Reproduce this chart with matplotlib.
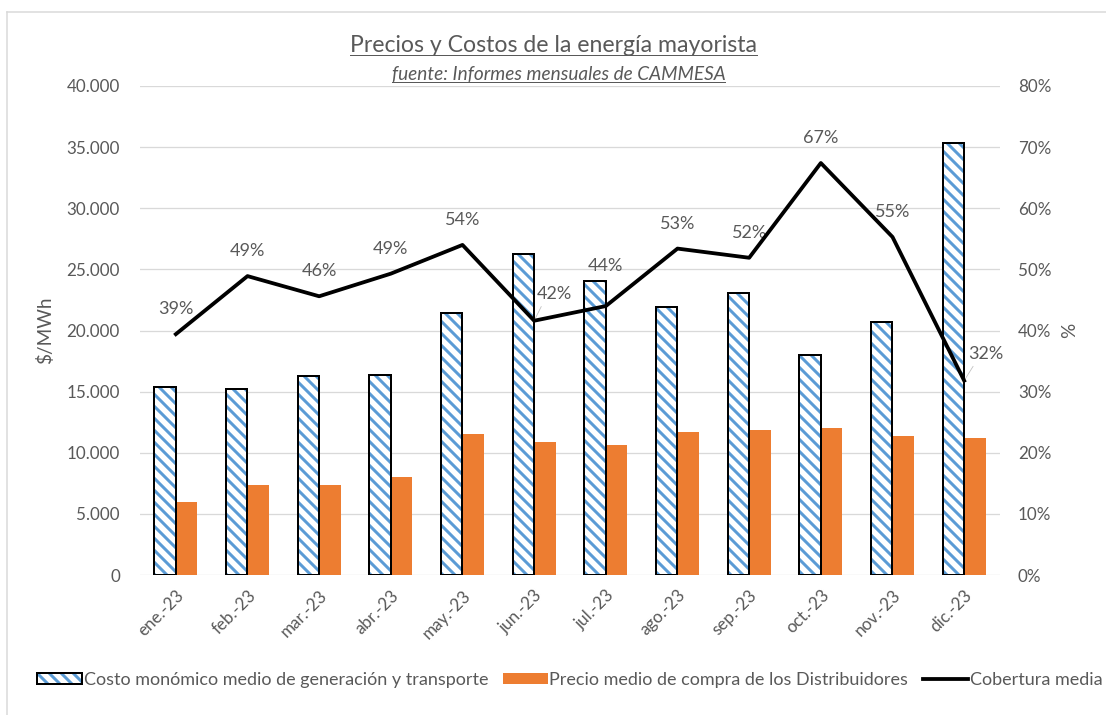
import numpy as np
import matplotlib
matplotlib.use("Agg")
import matplotlib.pyplot as plt
from matplotlib.patches import Patch
from matplotlib.lines import Line2D
from matplotlib.ticker import FuncFormatter, PercentFormatter

# datos
meses = ["ene.-23", "feb.-23", "mar.-23", "abr.-23", "may.-23", "jun.-23",
         "jul.-23", "ago.-23", "sep.-23", "oct.-23", "nov.-23", "dic.-23"]
costo_monomico = [15380, 15250, 16300, 16400, 21400, 26250,
                  24050, 21950, 23100, 18000, 20700, 35350]
precio_distrib = [6000, 7400, 7400, 8000, 11500, 10900,
                  10600, 11700, 11900, 12000, 11400, 11200]
cobertura = [39.4, 48.9, 45.6, 49.3, 54.0, 41.6,
             44.0, 53.4, 51.9, 67.4, 55.3, 31.8]

azul = "#5B9BD5"
naranja = "#ED7D31"
gris = "#595959"
grilla = "#D9D9D9"

plt.rcParams["font.family"] = ["Lato", "DejaVu Sans"]
plt.rcParams["hatch.linewidth"] = 3.0

W, H = 1106, 715
fig = plt.figure(figsize=(W / 72, H / 72), dpi=72)
ax = fig.add_axes([140 / W, (H - 575) / H, 860 / W, 489 / H])
ax2 = ax.twinx()

x = np.arange(len(meses))
w = 0.3
ax.bar(x - w / 2, costo_monomico, w, color="white", edgecolor=azul,
       linewidth=0, hatch="\\\\", zorder=2)
ax.bar(x - w / 2, costo_monomico, w, fill=False, edgecolor="black",
       linewidth=2, zorder=3)
ax.bar(x + w / 2, precio_distrib, w, color=naranja, linewidth=0, zorder=2)

ax.set_xlim(-0.5, len(meses) - 0.5)
ax.set_ylim(0, 40000)
ax.set_yticks(np.arange(0, 40001, 5000))
ax.yaxis.set_major_formatter(FuncFormatter(lambda v, p: f"{v:,.0f}".replace(",", ".")))
ax.grid(axis="y", color=grilla, linewidth=1.3, zorder=0)
ax.set_axisbelow(True)
ax.set_xticks(x)
ax.set_xticklabels(meses, rotation=45, ha="right", rotation_mode="anchor")
for a in (ax, ax2):
    for s in a.spines.values():
        s.set_visible(False)
    a.tick_params(length=0, colors=gris, labelsize=17)
ax.tick_params(axis="y", pad=20)
ax.tick_params(axis="x", pad=12)
ax2.tick_params(axis="y", pad=18)
ax.set_ylabel("\\$/MWh", color=gris, fontsize=19, labelpad=12)

ax2.plot(x, cobertura, color="black", linewidth=3.8, zorder=4)
ax2.set_ylim(0, 80)
ax2.set_yticks(np.arange(0, 81, 10))
ax2.yaxis.set_major_formatter(PercentFormatter(decimals=0))
ax2.set_ylabel("%", color=gris, fontsize=19, labelpad=10)

# etiquetas de datos
desplaz = {5: (20, 27), 6: (0, 40), 11: (22, 27)}
guias = (5, 11)
for i, v in enumerate(cobertura):
    dx, dy = desplaz.get(i, (0, 25))
    ax2.annotate(f"{v:.0f}%", (x[i], v), xytext=(dx, dy),
                 textcoords="offset points", ha="center", va="center",
                 color=gris, fontsize=18)
    if i in guias:
        ax2.annotate("", (x[i], v), xytext=(dx - 12, dy - 11),
                     textcoords="offset points",
                     arrowprops=dict(arrowstyle="-", color="#BFBFBF", lw=0.8))

titulo = fig.text(0.5, 1 - 45 / H, "Precios y Costos de la energía mayorista",
                  ha="center", va="center", fontsize=23, color=gris)
sub = fig.text(0.505, 1 - 74 / H, "fuente: Informes mensuales de CAMMESA",
               ha="center", va="center", fontsize=19, color=gris, style="italic")

mano_costo = (Patch(facecolor="white", edgecolor=azul, linewidth=0, hatch="\\\\"),
              Patch(fill=False, edgecolor="black", linewidth=2))
mano_precio = Patch(facecolor=naranja, linewidth=0)
mano_cob = Line2D([], [], color="black", linewidth=3.8)
fig.legend([mano_costo, mano_precio, mano_cob],
           ["Costo monómico medio de generación y transporte",
            "Precio medio de compra de los Distribuidores",
            "Cobertura media"],
           loc="center", bbox_to_anchor=(0.515, (H - 680) / H), ncol=3,
           frameon=False, fontsize=18, labelcolor=gris, handlelength=2.5,
           handleheight=0.6, handletextpad=0.1, columnspacing=0.8)

# borde del grafico
fig.add_artist(Line2D([7 / W, 7 / W], [0, 1 - 12 / H], color=grilla, lw=1.5))
fig.add_artist(Line2D([7 / W, 1], [1 - 12 / H, 1 - 12 / H], color=grilla, lw=1.5))

# subrayado de titulos
fig.canvas.draw()
r = fig.canvas.get_renderer()
for t in (titulo, sub):
    bb = t.get_window_extent(r)
    yy = (bb.y0 + 1) / H
    fig.add_artist(Line2D([bb.x0 / W, bb.x1 / W], [yy, yy], color=gris, lw=1))

fig.savefig("out.png", dpi=72)
